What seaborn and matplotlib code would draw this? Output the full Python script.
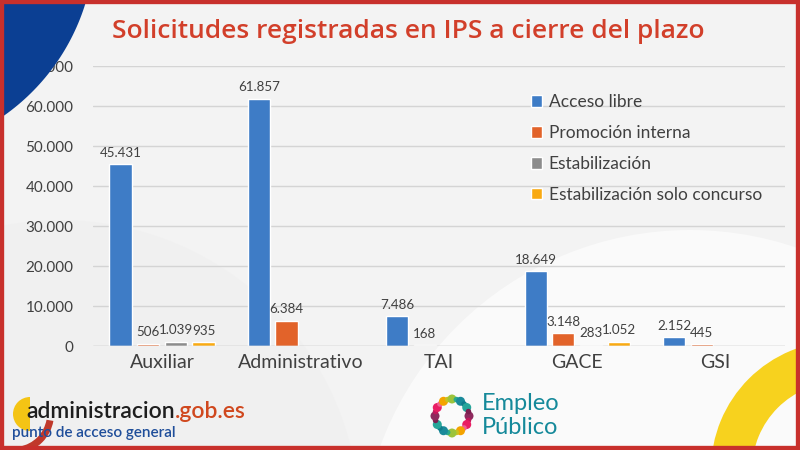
import numpy as np
import pandas as pd
import seaborn as sns
import matplotlib.pyplot as plt
from matplotlib.patches import Wedge, Circle, Rectangle, Polygon

# data
categories = ["Auxiliar", "Administrativo", "TAI", "GACE", "GSI"]
series_names = ["Acceso libre", "Promoción interna", "Estabilización",
                "Estabilización solo concurso"]
acceso_libre = [45431, 61857, 7486, 18649, 2152]
promocion_interna = [506, 6384, 168, 3148, 445]
estabilizacion = [1039, np.nan, np.nan, 283, np.nan]
estabilizacion_concurso = [935, np.nan, np.nan, 1052, np.nan]
y_ticks = [0, 10000, 20000, 30000, 40000, 50000, 60000, 70000]

colors = ["#3E7CC6", "#E2632A", "#8C8C8C", "#F9AA12"]
text_col = "#404040"

sns.set_style("white")
plt.rcParams["font.family"] = ["Lato", "DejaVu Sans"]


def thousands(v):
    return f"{v:,.0f}".replace(",", ".")


rows = []
for name, vals in zip(series_names, [acceso_libre, promocion_interna,
                                     estabilizacion, estabilizacion_concurso]):
    for cat, v in zip(categories, vals):
        if not np.isnan(v):
            rows.append({"Cuerpo": cat, "Tipo": name, "Solicitudes": v})
df = pd.DataFrame(rows)

fig = plt.figure(figsize=(8, 4.5), dpi=100, facecolor="#F3F3F3")

# faint background swooshes
bg = fig.add_axes([0, 0, 1, 1], zorder=0)
bg.set_xlim(0, 800)
bg.set_ylim(450, 0)
bg.axis("off")
bg.add_patch(Circle((690, 560), 330, color="white", alpha=0.6, lw=0))
bg.add_patch(Circle((60, 520), 300, color="#EDEDED", alpha=0.4, lw=0))
bg.add_patch(Wedge((980, -120), 520, 180, 260, width=120, color="#EAEAEA", alpha=0.6, lw=0))

ax = fig.add_axes([0.116, 0.231, 0.865, 0.622], zorder=2)
ax.patch.set_alpha(0)
sns.barplot(
    data=df, x="Cuerpo", y="Solicitudes", hue="Tipo",
    order=categories, hue_order=series_names, palette=colors,
    width=0.8, gap=0.2, saturation=1, ax=ax, legend=True,
)
for cont in ax.containers:
    ax.bar_label(cont, fmt=thousands, padding=4, fontsize=9.6, color=text_col)

ax.set_ylim(0, 70000)
ax.set_yticks(y_ticks)
ax.set_yticklabels([thousands(t) for t in y_ticks])
ax.grid(axis="y", color="#D4D4D4", linewidth=1)
ax.set_axisbelow(True)
sns.despine(ax=ax, left=True, bottom=True)
ax.axhline(0, color="#D0D0D0", linewidth=1, zorder=1)
ax.set_xlabel("")
ax.set_ylabel("")
ax.tick_params(axis="y", length=0, pad=14, labelsize=11, labelcolor=text_col)
ax.tick_params(axis="x", length=0, pad=6, labelsize=14, labelcolor=text_col)

leg = ax.legend(loc="upper left", bbox_to_anchor=(0.61, 0.955), frameon=False,
                fontsize=12.5, handlelength=0.65, handleheight=0.65,
                handletextpad=0.4, labelspacing=0.85, labelcolor=text_col)

# title
fig.text(0.51, 0.93, "Solicitudes registradas en IPS a cierre del plazo",
         ha="center", va="center", fontsize=19, color="#D23F2A",
         family=["Open Sans", "DejaVu Sans"], weight="semibold")

# foreground decorations: blue arc, yellow ring, logos, border
fg = fig.add_axes([0, 0, 1, 1], zorder=3)
fg.set_xlim(0, 800)
fg.set_ylim(450, 0)
fg.axis("off")
fg.patch.set_alpha(0)

t = np.linspace(0, np.pi / 2, 80)
arc = np.column_stack([-120 + 215 * np.cos(t), -60 + 215 * np.sin(t)])
fg.add_patch(Polygon(np.vstack([[[-10, -10]], arc, [[-10, 160]]]),
                     closed=True, color="#0B3F93", lw=0))
fg.add_patch(Wedge((840, 470), 129, 0, 360, width=41, color="#F7D21E", lw=0))

# administracion.gob.es logo
fg.add_patch(Wedge((30, 414), 17, 90, 270, color="#F4C414", lw=0))
fg.add_patch(Wedge((14, 414), 40, 10, 80, width=7, color="#C0392B", lw=0))
t1 = fg.text(26, 418, "administracion", fontsize=16.5, color="#1E1E1E",
             family=["Lato", "DejaVu Sans"], weight="semibold", va="baseline")
fig.canvas.draw()
bb = t1.get_window_extent()
x_end = fg.transData.inverted().transform((bb.x1, bb.y0))[0]
fg.text(x_end, 418, ".gob.es", fontsize=16.5, color="#D0481E",
        family=["Lato", "DejaVu Sans"], weight="semibold", va="baseline")
fg.text(12, 437, "punto de acceso general", fontsize=11, color="#1F4E9A",
        family=["Lato", "DejaVu Sans"], va="baseline", weight="semibold")

# Empleo Público logo
dot_cols = ["#8E2A5E", "#C2185B", "#E91E63", "#F06292", "#F4A300", "#C8C21E",
            "#9CC33B", "#2BAA8A", "#1A8A9A", "#0F7C8C", "#26A69A", "#7B1F4F"]
for i, ang in enumerate(np.linspace(0, 2 * np.pi, 24, endpoint=False)):
    r = 4.5 if i % 2 == 0 else 2.8
    fg.add_patch(Circle((452 + 17 * np.cos(ang), 416 + 17 * np.sin(ang)), r,
                        color=dot_cols[i % len(dot_cols)], lw=0))
fg.text(482, 410, "Empleo", fontsize=17, color="#15899A", va="baseline")
fg.text(482, 434, "Público", fontsize=17, color="#15899A", va="baseline")

fg.add_patch(Rectangle((0, 0), 800, 450, fill=False, ec="#C8302C", lw=6))

fig.savefig("out.png", dpi=100, facecolor=fig.get_facecolor())
